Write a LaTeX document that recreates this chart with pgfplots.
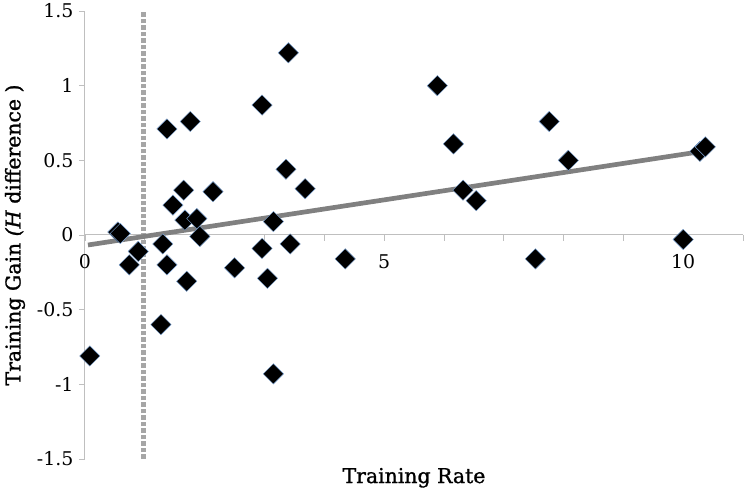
\documentclass[border=0pt]{standalone}
\usepackage{fontspec}
\setmainfont{DejaVu Serif}
\newfontfamily\labfont[FakeBold=1.2]{DejaVu Serif}
\usepackage{pgfplots}
\pgfplotsset{compat=1.18}
\definecolor{axgray}{RGB}{191,191,191}
\definecolor{trend}{RGB}{128,128,128}
\definecolor{dashg}{RGB}{166,166,166}
\definecolor{edge}{RGB}{130,170,220}
\begin{document}
\begin{tikzpicture}
\begin{axis}[name=ax, scale only axis, width=658bp, height=448bp,
  xmin=0, xmax=11, ymin=-1.5, ymax=1.5,
  axis lines=middle, axis line style={-, axgray, line width=1bp},
  hide obscured x ticks=false, hide obscured y ticks=false,
  xtick={0,5,10}, minor xtick={1,2,3,4,6,7,8,9,11},
  ytick={-1.5,-1,-0.5,0,0.5,1,1.5},
  yticklabels={-1.5,-1,-0.5,0,0.5,1,1.5},
  xticklabels={0,5,10},
  tick align=outside,
  tick style={axgray, line width=0.8bp}, major tick length=6bp, minor tick length=6bp,
  every tick label/.append style={font=\fontsize{19}{21}\selectfont, text=black},
  xticklabel style={yshift=-10bp},
  yticklabel style={xshift=-2bp},
  /pgf/number format/assume math mode=true,
  clip=false,
  every axis x label/.style={at={(axis description cs:0.5,-0.0536)}, anchor=base, font=\labfont\fontsize{20.5}{24}\selectfont},
  every axis y label/.style={at={(axis description cs:-0.1064,0.5)}, rotate=90, anchor=center, font=\labfont\fontsize{20.5}{24}\selectfont},
  xlabel={Training Rate},
  ylabel={Training Gain \textit{(H} difference )},
]
\addplot[only marks, mark=square*, mark size=7.2bp, mark options={rotate=45, fill=black, draw=edge, line width=0.4bp}] coordinates {
(0.08,-0.81) (0.55,0.02) (0.59,0.01) (0.74,-0.20) (0.89,-0.11)
(1.27,-0.60) (1.30,-0.06) (1.37,0.71) (1.37,-0.20) (1.47,0.20)
(1.65,0.30) (1.67,0.10) (1.70,-0.31) (1.76,0.76) (1.87,0.11)
(1.92,-0.01) (2.14,0.29) (2.50,-0.22) (2.96,0.87) (2.96,-0.09)
(3.05,-0.29) (3.15,-0.93) (3.15,0.09) (3.36,0.44) (3.40,1.22)
(3.43,-0.06) (3.68,0.31) (4.35,-0.16) (5.89,1.00) (6.16,0.61)
(6.32,0.30) (6.54,0.23) (7.53,-0.16) (7.76,0.76) (8.08,0.50)
(10.00,-0.03) (10.28,0.56) (10.37,0.59)
};
\addplot[dashg, line width=5bp, dash pattern=on 4.5bp off 2bp] coordinates {(0.97,-1.5) (0.97,1.5)};
\addplot[trend, line width=4.7bp] coordinates {(0.05,-0.067) (10.37,0.563)};
\end{axis}
\pgfresetboundingbox
\path ([shift={(-85bp,-36bp)}]ax.south west) rectangle ([shift={(3bp,11bp)}]ax.north east);
\end{tikzpicture}
\end{document}
